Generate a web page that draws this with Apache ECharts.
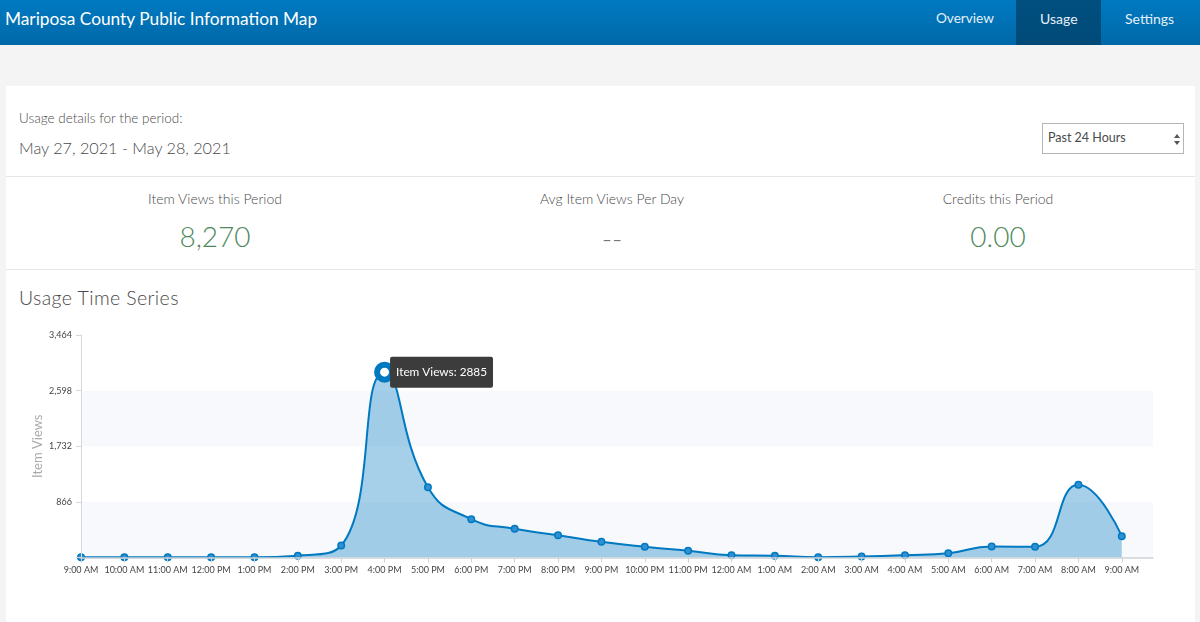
<!DOCTYPE html>
<html><head><meta charset="utf-8">
<style>
html,body{margin:0;padding:0;width:1200px;height:622px;overflow:hidden;background:#f4f4f4;font-family:Lato,"Open Sans",sans-serif;color:#4a4a4a;font-weight:300}
.t{position:absolute;white-space:nowrap;line-height:1}
.c{transform:translateX(-50%)}
#head{position:absolute;left:0;top:0;width:1200px;height:45px;background:linear-gradient(#0079c1,#0069a8)}
#tab{position:absolute;left:1016px;top:0;width:85px;height:45px;background:linear-gradient(#004f7f,#004a78)}
#card{position:absolute;left:6px;top:86px;width:1189px;height:536px;background:#fff}
.rule{position:absolute;left:6px;width:1189px;height:1px;background:#e6e6e6}
#sel{position:absolute;left:1042px;top:123px;width:140px;height:29px;border:1px solid #b5b5b5;background:#fff}
.up,.dn{position:absolute;left:1174px;width:0;height:0;border-left:3px solid transparent;border-right:3px solid transparent}
.up{top:134px;border-bottom:4px solid #555}.dn{top:141px;border-top:4px solid #555}
#chart{position:absolute;left:0;top:0;width:1200px;height:622px}
</style></head><body>
<div id="head"></div><div id="tab"></div>
<div class="t" style="left:5px;top:10px;font-size:17.3px;color:#fff;font-weight:400">Mariposa County Public Information Map</div>
<div class="t" style="left:936px;top:12px;font-size:13.6px;color:#e4f0f8;font-weight:400">Overview</div>
<div class="t" style="left:1040px;top:12px;font-size:14px;color:#e4f0f8;font-weight:400">Usage</div>
<div class="t" style="left:1125px;top:12px;font-size:14px;color:#e4f0f8;font-weight:400">Settings</div>
<div id="card"></div>
<div class="rule" style="top:176px"></div><div class="rule" style="top:269px"></div>
<div class="t" style="left:19px;top:112px;font-size:13.5px">Usage details for the period:</div>
<div class="t" style="left:19px;top:140px;font-size:16.2px">May 27, 2021 - May 28, 2021</div>
<div id="sel"></div>
<div class="t" style="left:1048px;top:132px;font-size:12.5px;font-weight:400">Past 24 Hours</div>
<div class="up"></div><div class="dn"></div>
<div class="t c" style="left:215px;top:192px;font-size:14px">Item Views this Period</div>
<div class="t c" style="left:612px;top:192px;font-size:14px">Avg Item Views Per Day</div>
<div class="t c" style="left:998px;top:192px;font-size:14px">Credits this Period</div>
<div class="t c" style="left:215px;top:222px;font-size:28px;color:#4f8a5b">8,270</div>
<div class="t c" style="left:612px;top:224px;font-size:28px;color:#777">--</div>
<div class="t c" style="left:998px;top:222px;font-size:28px;color:#4f8a5b">0.00</div>
<div class="t" style="left:19px;top:288px;font-size:19.5px;letter-spacing:.4px">Usage Time Series</div>
<div id="chart"></div>
<script src="https://cdn.jsdelivr.net/npm/echarts@6/dist/echarts.min.js"></script>
<script>
const hourLabels = ['9:00 AM','10:00 AM','11:00 AM','12:00 PM','1:00 PM','2:00 PM','3:00 PM','4:00 PM','5:00 PM','6:00 PM','7:00 PM','8:00 PM','9:00 PM','10:00 PM','11:00 PM','12:00 AM','1:00 AM','2:00 AM','3:00 AM','4:00 AM','5:00 AM','6:00 AM','7:00 AM','8:00 AM','9:00 AM'];
const itemViews = [3,4,4,5,3,28,187,2885,1095,597,446,348,244,166,104,36,26,5,15,36,67,171,166,1132,332];
const peakIndex = itemViews.indexOf(Math.max.apply(null,itemViews));
const xPositions = hourLabels.map((_,i)=>i);
const chart = echarts.init(document.getElementById('chart'),null,{renderer:'canvas'});
chart.setOption({
  animation:false,
  grid:{left:81,right:47,top:335,bottom:64.5},
  xAxis:{type:'value',min:0,max:24.72,z:5,
    splitLine:{show:false},
    axisLine:{lineStyle:{color:'#cfd3d8',width:1.5}},
    axisTick:{show:true,length:5,lineStyle:{color:'#cfd3d8'},customValues:xPositions},
    axisLabel:{customValues:xPositions,color:'#444',fontSize:9,margin:8,fontFamily:'Lato',
      formatter:v=>hourLabels[Math.round(v)]}},
  yAxis:[{type:'value',min:0,max:3464,interval:866,z:5,
    name:'Item Views',nameLocation:'middle',nameGap:37,nameRotate:90,nameMoveOverlap:false,
    nameTextStyle:{color:'#aaa',fontSize:13,fontFamily:'Lato'},
    splitLine:{show:false},splitArea:{show:false},
    axisLine:{show:true,lineStyle:{color:'#d5d8dd'}},
    axisTick:{show:true,length:5,lineStyle:{color:'#d5d8dd'}},
    axisLabel:{color:'#444',fontSize:9,margin:9,fontFamily:'Lato',
      formatter:v=>v===0?'':v.toLocaleString('en-US')}},
   {type:'value',min:0,max:3464,interval:866,z:0,position:'left',
    axisLine:{show:false},axisTick:{show:false},axisLabel:{show:false},splitLine:{show:false},
    splitArea:{show:true,areaStyle:{color:['#f8f9fc','#ffffff']}}}],
  graphic:[
    {type:'rect',z:3,silent:true,shape:{x:60,y:558,width:1100,height:8},style:{fill:'#fff'}},
    {type:'rect',z:3,silent:true,shape:{x:74,y:550,width:7,height:8},style:{fill:'#fff'}}
  ],
  series:[{type:'line',smooth:0.5,
    showAllSymbol:true,symbol:'circle',symbolSize:6.5,
    lineStyle:{color:'#0079c1',width:2},
    itemStyle:{color:'#2f90d2',borderColor:'#0079c1',borderWidth:1.5},
    areaStyle:{color:'#0079c1',opacity:0.35},
    data:itemViews.map((v,i)=>i===peakIndex?{
      value:[i,v],symbolSize:15,
      itemStyle:{color:'#ffffff',borderColor:'#0079c1',borderWidth:6},
      label:{show:true,position:'right',distance:-5,formatter:'Item Views: '+v,
        color:'#fff',fontSize:11.8,fontFamily:'Lato',backgroundColor:'#3c3c3c',
        borderRadius:2,padding:[10,6,9,6]}
    }:{value:[i,v]})
  }]
});
</script>
</body></html>
